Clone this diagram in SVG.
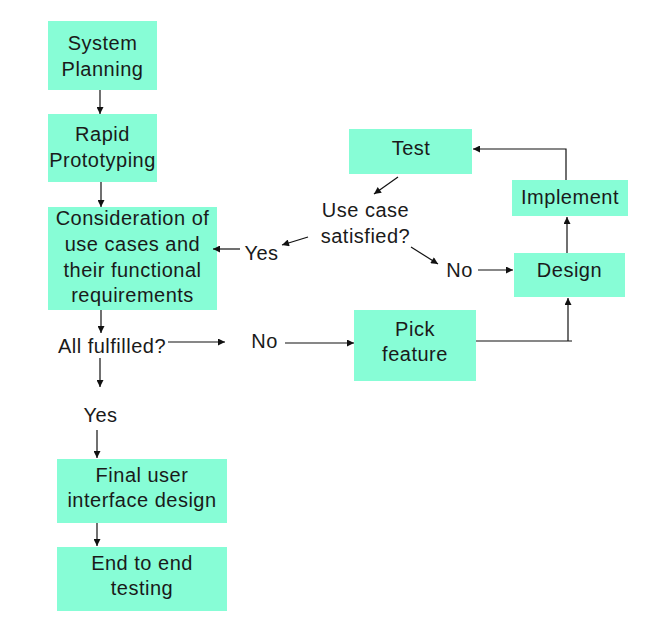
<svg xmlns="http://www.w3.org/2000/svg" width="657" height="621" viewBox="0 0 657 621">
<style>
.box{fill:#87FDD6;stroke:none}
text{font-family:"Liberation Sans",Arial,sans-serif;font-size:20px;letter-spacing:0.5px;fill:#1a1a1a;text-anchor:middle}
.ln{stroke:#111;stroke-width:1.2;fill:none}
.ar{marker-end:url(#ah)}
</style>
<defs>
<marker id="ah" viewBox="0 0 10 10" refX="10" refY="5" markerWidth="9" markerHeight="7" markerUnits="userSpaceOnUse" orient="auto">
<path d="M0,0 L10,5 L0,10 z" fill="#111"/>
</marker>
</defs>
<rect width="657" height="621" fill="#fff"/>
<g id="sysplan"><rect class="box" x="48" y="21" width="109" height="69"/><text x="102.5" y="50">System</text><text x="102.5" y="76">Planning</text></g>
<g id="rapid"><rect class="box" x="48" y="114" width="109" height="68"/><text x="102.5" y="141">Rapid</text><text x="102.5" y="167">Prototyping</text></g>
<g id="consid"><rect class="box" x="48" y="207" width="169" height="103"/><text x="132.5" y="225">Consideration of</text><text x="132.5" y="251">use cases and</text><text x="132.5" y="277">their functional</text><text x="132.5" y="302">requirements</text></g>
<g id="allful"><text x="112" y="353">All fulfilled?</text></g>
<g id="yes2"><text x="100.5" y="422">Yes</text></g>
<g id="no1"><text x="264.5" y="348">No</text></g>
<g id="final"><rect class="box" x="57" y="459" width="170" height="64"/><text x="142" y="482">Final user</text><text x="142" y="507">interface design</text></g>
<g id="e2e"><rect class="box" x="57" y="547" width="170" height="64"/><text x="142" y="570">End to end</text><text x="142" y="595">testing</text></g>
<g id="test"><rect class="box" x="349" y="129" width="123" height="45"/><text x="411" y="155">Test</text></g>
<g id="usecase"><text x="365.5" y="217">Use case</text><text x="365.5" y="243">satisfied?</text></g>
<g id="yes1"><text x="261.5" y="260">Yes</text></g>
<g id="no2"><text x="459.5" y="277">No</text></g>
<g id="impl"><rect class="box" x="512" y="180" width="116" height="36"/><text x="570" y="204">Implement</text></g>
<g id="design"><rect class="box" x="514" y="253" width="111" height="44"/><text x="569.5" y="277">Design</text></g>
<g id="pick"><rect class="box" x="354" y="310" width="122" height="71"/><text x="415" y="336">Pick</text><text x="415" y="361">feature</text></g>
<g id="connectors">
<line class="ln ar" x1="100" y1="90" x2="100" y2="114"/>
<line class="ln ar" x1="101" y1="182" x2="101" y2="207"/>
<line class="ln ar" x1="101" y1="310" x2="101" y2="333"/>
<line class="ln ar" x1="168" y1="342" x2="225" y2="342"/>
<line class="ln ar" x1="285" y1="343" x2="354" y2="343"/>
<line class="ln ar" x1="100" y1="358" x2="100" y2="387"/>
<line class="ln ar" x1="97" y1="430" x2="97" y2="458"/>
<line class="ln ar" x1="97" y1="523" x2="97" y2="546"/>
<line class="ln ar" x1="240" y1="249" x2="213" y2="249"/>
<line class="ln ar" x1="308" y1="237" x2="282" y2="245"/>
<line class="ln ar" x1="398" y1="177" x2="374" y2="194"/>
<line class="ln ar" x1="411" y1="247" x2="438" y2="264"/>
<line class="ln ar" x1="478" y1="270" x2="513" y2="270"/>
<line class="ln ar" x1="567" y1="253" x2="567" y2="217"/>
<polyline class="ln ar" points="566,180 566,149 473,149"/>
<polyline class="ln" points="476,341 572,341"/>
<line class="ln ar" x1="568" y1="341" x2="568" y2="298"/>
</g>
</svg>
